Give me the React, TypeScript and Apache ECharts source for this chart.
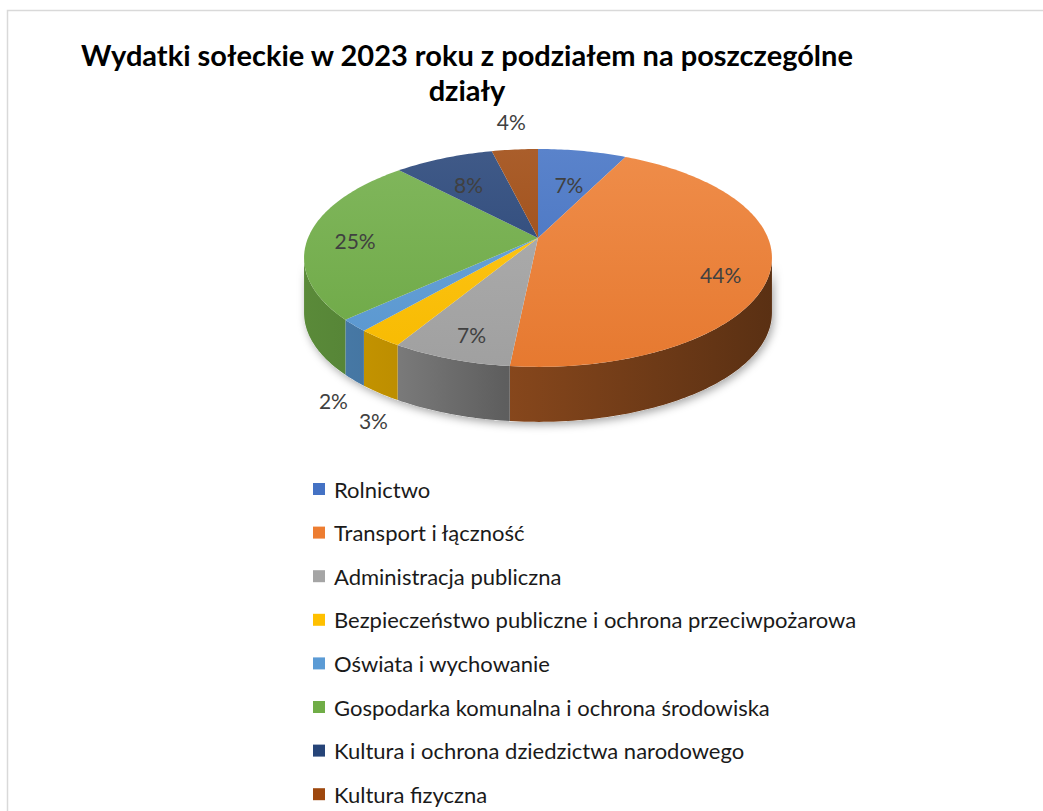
import React, { useEffect, useRef } from 'react';
import * as echarts from 'echarts';

const categories = [
  'Rolnictwo',
  'Transport i łączność',
  'Administracja publiczna',
  'Bezpieczeństwo publiczne i ochrona przeciwpożarowa',
  'Oświata i wychowanie',
  'Gospodarka komunalna i ochrona środowiska',
  'Kultura i ochrona dziedzictwa narodowego',
  'Kultura fizyczna',
];
const shares = [7.3, 44.3, 7.0, 2.7, 1.8, 24.9, 8.2, 3.8];
const titleText = 'Wydatki sołeckie w 2023 roku z podziałem na poszczególne\ndziały';

const colors = ['#4472C4', '#ED7D31', '#A5A5A5', '#FFC000', '#5B9BD5', '#70AD47', '#264478', '#9E480E'];

// 3D pie geometry (perspective projection of a tilted disc)
const CX = 538;
const CY = 238;
const A = 230;
const B = 105.3;
const K = -0.183;
const DEPTH = 55;
const PHI_RIGHT = Math.acos(K);
const PHI_LEFT = 2 * Math.PI - Math.acos(K);
const FONT = 'Lato';

function proj(phi: number, r: number, dy: number): number[] {
  const u = r * Math.sin(phi);
  const v = -r * Math.cos(phi);
  const d = 1 + K * v;
  return [CX + (A * u) / d, CY + (B * v) / d + dy];
}

function hexToRgb(h: string) {
  const n = parseInt(h.slice(1), 16);
  return [(n >> 16) & 255, (n >> 8) & 255, n & 255];
}
function shade(h: string, f: number) {
  const [r, g, b] = hexToRgb(h);
  return `rgb(${Math.round(r * f)},${Math.round(g * f)},${Math.round(b * f)})`;
}
function lighten(h: string, t: number) {
  const [r, g, b] = hexToRgb(h);
  return `rgb(${Math.round(r + (255 - r) * t)},${Math.round(g + (255 - g) * t)},${Math.round(b + (255 - b) * t)})`;
}

function arcPoints(a0: number, a1: number, r: number, dy: number) {
  const pts: number[][] = [];
  const n = Math.max(2, Math.ceil(((a1 - a0) * 180) / Math.PI));
  for (let i = 0; i <= n; i++) pts.push(proj(a0 + ((a1 - a0) * i) / n, r, dy));
  return pts;
}

export default function App() {
  const ref = useRef<HTMLDivElement>(null);
  useEffect(() => {
    if (!ref.current) return;
    const chart = echarts.init(ref.current, null, { renderer: 'svg' });
    const total = shares.reduce((s, v) => s + v, 0);
    const cum: number[] = [0];
    shares.forEach((v) => cum.push(cum[cum.length - 1] + v));
    const leftX = proj(PHI_LEFT, 1, 0)[0];
    const rightX = proj(PHI_RIGHT, 1, 0)[0];

    // label positions derived from the slice angles
    const labelPos = shares.map((v, i) => {
      const mid = ((cum[i] + cum[i + 1]) / 2 / total) * 2 * Math.PI;
      const du = Math.sin(mid);
      const dv = -Math.cos(mid);
      if (v >= 5) {
        const r = 0.62 + 0.18 * Math.max(Math.abs(du), dv);
        const p = proj(mid, r, 5 + 8 * Math.max(0, du));
        return { x: p[0], y: p[1], outside: false };
      }
      const p = proj(mid, 1, dv > 0 ? DEPTH : 0);
      return { x: p[0] + du * 30, y: p[1] + dv * 28, outside: true };
    });
    // simple collision avoidance for outside labels
    for (let i = 0; i < labelPos.length; i++) {
      for (let j = i + 1; j < labelPos.length; j++) {
        const a = labelPos[i];
        const b = labelPos[j];
        if (!a.outside || !b.outside) continue;
        const dx = Math.abs(a.x - b.x);
        const dy = Math.abs(a.y - b.y);
        if (dx < 40 && dy < 22) {
          const right = a.x > b.x ? a : b;
          right.x += 40 - dx;
          right.y += 5;
        }
      }
    }

    const pieSeries = categories.map((name, i) => ({
      type: 'custom',
      name,
      coordinateSystem: 'none',
      z: 3,
      itemStyle: { color: colors[i] },
      data: [[shares[i]]],
      renderItem: () => {
        const a0 = (cum[i] / total) * 2 * Math.PI;
        const a1 = (cum[i + 1] / total) * 2 * Math.PI;
        const base = colors[i];
        const children: any[] = [];
        const lo = Math.max(a0, PHI_RIGHT);
        const hi = Math.min(a1, PHI_LEFT);
        if (hi > lo) {
          const pts = arcPoints(lo, hi, 1, 0).concat(arcPoints(lo, hi, 1, DEPTH).reverse());
          children.push({
            type: 'polygon',
            shape: { points: pts },
            style: {
              fill: new echarts.graphic.LinearGradient(
                leftX,
                0,
                rightX,
                0,
                [
                  { offset: 0, color: shade(base, 0.8) },
                  { offset: 0.2, color: shade(base, 0.74) },
                  { offset: 0.43, color: shade(base, 0.57) },
                  { offset: 1, color: shade(base, 0.38) },
                ],
                true
              ),
            },
          });
        }
        const top = [proj(0, 0, 0)].concat(arcPoints(a0, a1, 1, 0));
        children.push({
          type: 'polygon',
          shape: { points: top },
          style: {
            fill: new echarts.graphic.LinearGradient(
              0,
              CY - 90,
              0,
              CY + 130,
              [
                { offset: 0, color: lighten(base, 0.12) },
                { offset: 1, color: shade(base, 0.97) },
              ],
              true
            ),
          },
        });
        const pct = Math.round((shares[i] / total) * 100) + '%';
        children.push({
          type: 'text',
          style: {
            text: pct,
            x: labelPos[i].x,
            y: labelPos[i].y,
            align: 'center',
            verticalAlign: 'middle',
            textAlign: 'center',
            textVerticalAlign: 'middle',
            fill: '#404040',
            font: `21px ${FONT}`,
          },
        });
        return { type: 'group', children };
      },
    }));

    const shadowSeries = {
      type: 'custom',
      name: 'shadow',
      coordinateSystem: 'none',
      z: 1,
      silent: true,
      data: [[1]],
      renderItem: () => {
        const pts = arcPoints(PHI_RIGHT, PHI_LEFT, 1, 0).concat(arcPoints(PHI_RIGHT, PHI_LEFT, 1, DEPTH).reverse());
        return {
          type: 'polygon',
          shape: { points: pts },
          style: {
            fill: '#ffffff',
            shadowBlur: 8,
            shadowColor: 'rgba(0,0,0,0.35)',
            shadowOffsetX: 2,
            shadowOffsetY: 3,
          },
        };
      },
    };

    chart.setOption({
      animation: false,
      backgroundColor: '#ffffff',
      title: {
        text: titleText,
        left: 462,
        top: 32,
        textAlign: 'center',
        textStyle: {
          fontFamily: FONT,
          fontWeight: 'bold',
          fontSize: 29,
          lineHeight: 35,
          color: '#000000',
        },
      },
      legend: {
        data: categories,
        orient: 'vertical',
        left: 313,
        top: 478,
        padding: 0,
        icon: 'rect',
        itemWidth: 12,
        itemHeight: 12,
        itemGap: 21.6,
        textStyle: { fontFamily: FONT, fontSize: 22, lineHeight: 22, color: '#1a1a1a', padding: [0, 0, 0, 4] },
      },
      graphic: [
        {
          type: 'rect',
          silent: true,
          shape: { x: 7.5, y: 10.5, width: 1200, height: 1000 },
          style: { fill: 'none', stroke: '#d9d9d9', lineWidth: 1.5 },
        },
      ],
      series: [shadowSeries, ...pieSeries],
    });
    return () => chart.dispose();
  }, []);
  return <div ref={ref} style={{ position: 'absolute', left: 0, top: 0, width: 1043, height: 811 }} />;
}
